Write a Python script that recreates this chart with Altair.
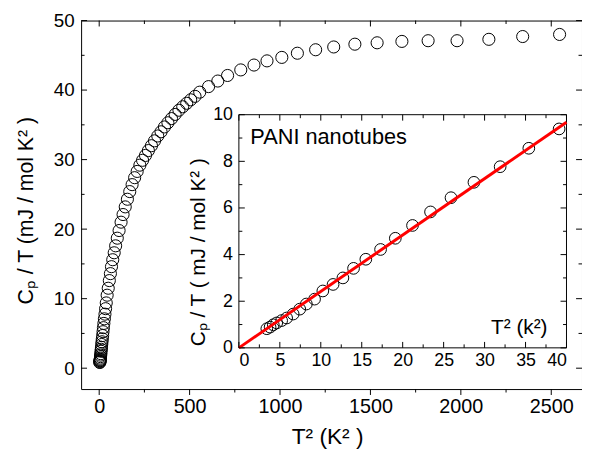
import altair as alt
import pandas as pd

# ---------------- data ----------------
inset_t2 = [3.41, 3.81, 4.2, 4.62, 5.22, 5.83, 6.63, 7.43, 8.24, 9.24, 10.25, 11.5,
            12.7, 14.0, 15.5, 17.3, 19.1, 21.2, 23.4, 25.9, 28.7, 31.9, 35.4, 39.1]
inset_cpt = [0.82, 0.89, 0.99, 1.07, 1.17, 1.28, 1.45, 1.66, 1.88, 2.09, 2.44, 2.72,
             3.0, 3.41, 3.8, 4.22, 4.7, 5.25, 5.83, 6.44, 7.1, 7.77, 8.56, 9.39]
high_t2 = [44, 50, 56, 62, 68, 75, 83, 91, 100, 110, 121, 132, 144, 156, 169, 182,
           196, 210, 225, 240, 256, 272, 289, 306, 324, 342, 361, 380, 400, 420, 441,
           462, 484, 506, 530, 556, 605, 656, 710, 783, 856, 928, 1010, 1096, 1197,
           1297, 1414, 1537, 1674, 1819, 1979, 2155, 2342, 2546]
high_cpt = [10.5, 11.5, 12.6, 13.6, 14.6, 15.6, 16.6, 17.6, 18.7, 19.8, 21.0, 22.1,
            23.2, 24.3, 25.4, 26.4, 27.4, 28.3, 29.2, 29.9, 30.6, 31.3, 32.0, 32.7,
            33.4, 34.0, 34.7, 35.3, 35.9, 36.5, 37.1, 37.6, 38.1, 38.6, 39.1, 39.7,
            40.5, 41.3, 42.1, 42.9, 43.6, 44.2, 44.7, 45.3, 45.8, 46.2, 46.6, 46.8,
            47.0, 47.1, 47.1, 47.3, 47.7, 48.0]
fit_t2 = [0, 40]
fit_cpt = [0, 9.68]

main_x_major = [0, 500, 1000, 1500, 2000, 2500]
main_x_minor = [250, 750, 1250, 1750, 2250]
main_y_major = [0, 10, 20, 30, 40, 50]
main_y_minor = [5, 15, 25, 35, 45]
inset_x_major = [0, 5, 10, 15, 20, 25, 30, 35, 40]
inset_x_minor = [2.5, 7.5, 12.5, 17.5, 22.5, 27.5, 32.5, 37.5]
inset_y_major = [0, 2, 4, 6, 8, 10]
inset_y_minor = [1, 3, 5, 7, 9]

inset_label = ["PANI nanotubes"]

# ---------------- layout ----------------
FONT = "Liberation Sans"
TOP = 10                      # padding above the plot area
W, H = 507, 373
MAIN_X = [-100, 2670]
MAIN_Y = [-3, 50]
IN_X = [0, 40]
IN_Y = [0, 10]
IN_L, IN_R, IN_T, IN_B = 159.7, 491.3, 95.3, 331.3
MAJ, MIN = 6, 3.5

main_df = pd.DataFrame({"x": inset_t2 + high_t2, "y": inset_cpt + high_cpt})
inset_df = pd.DataFrame({"x": inset_t2, "y": inset_cpt})
fit_df = pd.DataFrame({"x": fit_t2, "y": fit_cpt})
box_df = pd.DataFrame({"x": [IN_X[0]], "x2": [IN_X[1]], "y": [IN_Y[0]], "y2": [IN_Y[1]]})
dummy = pd.DataFrame({"x": [0], "y": [0]})
label_df = pd.DataFrame({"t": inset_label})


def mscale_x():
    return alt.Scale(domain=MAIN_X, nice=False, zero=False)


def mscale_y():
    return alt.Scale(domain=MAIN_Y, nice=False, zero=False)


def iscale_x():
    return alt.Scale(domain=IN_X, range=[IN_L, IN_R], nice=False, zero=False)


def iscale_y():
    return alt.Scale(domain=IN_Y, range=[IN_B, IN_T], nice=False, zero=False)


def axis_layer(xs, ys, xa, ya):
    return alt.Chart(dummy).mark_point(opacity=0).encode(
        x=alt.X("x:Q", scale=xs, axis=xa),
        y=alt.Y("y:Q", scale=ys, axis=ya),
    )


def xticks(values, xs, y0, y1):
    return alt.Chart(pd.DataFrame({"v": values})).mark_rule(
        color="black", strokeWidth=1
    ).encode(x=alt.X("v:Q", scale=xs, axis=None), y=alt.value(y0), y2=alt.value(y1))


def yticks(values, ys, x0, x1):
    return alt.Chart(pd.DataFrame({"v": values})).mark_rule(
        color="black", strokeWidth=1
    ).encode(y=alt.Y("v:Q", scale=ys, axis=None), x=alt.value(x0), x2=alt.value(x1))


# ---- main axes (labels + titles) ----
main_labels = axis_layer(
    mscale_x(), mscale_y(),
    alt.Axis(orient="bottom", values=main_x_major, format="d", ticks=False, tickSize=0,
             domain=False, grid=False, labelPadding=8, labelFontSize=20, labelFont=FONT,
             title="T² (K² )", titleFontSize=23, titleFontWeight="normal", titleFont=FONT,
             titleX=249, titleY=55.5, titleBaseline="alphabetic", titleAlign="center",
             zindex=1),
    alt.Axis(orient="left", values=main_y_major, format="d", ticks=False, tickSize=0,
             domain=False, grid=False, labelPadding=7, labelFontSize=19, labelFont=FONT,
             title="Cₚ / T (mJ / mol K² )", titleFontSize=21.5, titleFontWeight="normal",
             titleFont=FONT, titleAngle=270, titleX=-49, titleY=192,
             titleBaseline="alphabetic", titleAlign="center", zindex=1),
)
main_ticks = [
    xticks(main_x_major, mscale_x(), H, H + MAJ),
    xticks(main_x_minor, mscale_x(), H, H + MIN),
    xticks(main_x_major, mscale_x(), 0, MAJ),
    xticks(main_x_minor, mscale_x(), 0, MIN),
    yticks(main_y_major, mscale_y(), 0, MAJ),
    yticks(main_y_minor, mscale_y(), 0, MIN),
    yticks(main_y_major, mscale_y(), W, W - MAJ),
    yticks(main_y_minor, mscale_y(), W, W - MIN),
]

main_points = alt.Chart(main_df).mark_point(
    shape="circle", filled=False, size=150, stroke="black", strokeWidth=1, opacity=1
).encode(
    x=alt.X("x:Q", scale=mscale_x(), axis=None),
    y=alt.Y("y:Q", scale=mscale_y(), axis=None),
)

# ---- inset ----
inset_box = alt.Chart(box_df).mark_rect(fill="white", stroke="black", strokeWidth=1).encode(
    x=alt.X("x:Q", scale=iscale_x(), axis=None),
    x2="x2:Q",
    y=alt.Y("y:Q", scale=iscale_y(), axis=None),
    y2="y2:Q",
)
inset_points = alt.Chart(inset_df).mark_point(
    shape="circle", filled=False, size=140, stroke="black", strokeWidth=1, opacity=1
).encode(
    x=alt.X("x:Q", scale=iscale_x(), axis=None),
    y=alt.Y("y:Q", scale=iscale_y(), axis=None),
)
fit_line = alt.Chart(fit_df).mark_line(color="#ff0000", strokeWidth=3).encode(
    x=alt.X("x:Q", scale=iscale_x(), axis=None),
    y=alt.Y("y:Q", scale=iscale_y(), axis=None),
)

inset_labels = axis_layer(
    iscale_x(), iscale_y(),
    alt.Axis(orient="bottom", offset=IN_B - H, values=inset_x_major, format="d",
             ticks=False, tickSize=0, domain=False, grid=False, labelPadding=4,
             labelFontSize=18, labelFont=FONT, title="T² (k²)", titleFontSize=21,
             titleFontWeight="normal", titleFont=FONT, titleX=443, titleY=-14.3,
             titleBaseline="alphabetic", titleAlign="center", zindex=1),
    alt.Axis(orient="left", offset=-IN_L, values=inset_y_major, format="d", ticks=False,
             tickSize=0, domain=False, grid=False, labelPadding=6.5, labelFontSize=18,
             labelFont=FONT, title="Cₚ / T ( mJ / mol K² )", titleFontSize=21,
             titleFontWeight="normal", titleFont=FONT, titleAngle=270, titleX=-34.7,
             titleY=234, titleBaseline="alphabetic", titleAlign="center", zindex=1),
)
inset_ticks = [
    xticks(inset_x_major, iscale_x(), IN_B, IN_B - MAJ),
    xticks(inset_x_minor, iscale_x(), IN_B, IN_B - MIN),
    xticks(inset_x_major, iscale_x(), IN_T, IN_T + MAJ),
    xticks(inset_x_minor, iscale_x(), IN_T, IN_T + MIN),
    yticks(inset_y_major, iscale_y(), IN_L, IN_L + MAJ),
    yticks(inset_y_minor, iscale_y(), IN_L, IN_L + MIN),
    yticks(inset_y_major, iscale_y(), IN_R, IN_R - MAJ),
    yticks(inset_y_minor, iscale_y(), IN_R, IN_R - MIN),
]

inset_text = alt.Chart(label_df).mark_text(
    align="left", baseline="alphabetic", fontSize=22, font=FONT, color="black"
).encode(text="t:N", x=alt.value(171.3), y=alt.value(125.3))

chart = alt.layer(
    main_labels, *main_ticks, main_points,
    inset_box, inset_points, fit_line, *inset_ticks, inset_labels, inset_text,
).resolve_scale(
    x="independent", y="independent"
).properties(
    width=W, height=H,
    autosize=alt.AutoSizeParams(type="none"),
    padding={"left": 74, "top": TOP, "right": 0, "bottom": 60},
).configure_view(
    stroke="black", strokeWidth=1
).configure_axis(
    labelColor="black", titleColor="black"
)

chart.save("out.html", embed_options={"renderer": "svg", "actions": False})
